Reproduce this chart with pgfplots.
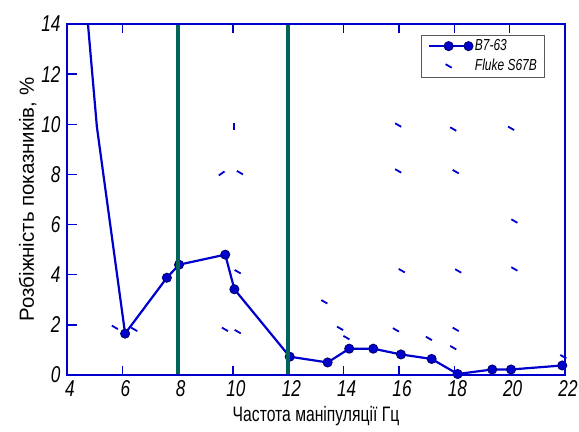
\documentclass[border=0pt]{standalone}
\usepackage{fontspec}
\setmainfont{Liberation Sans}[FakeStretch=0.75]
\newfontfamily\widefont{Liberation Sans}
\usepackage{pgfplots}
\pgfplotsset{compat=1.18}
\definecolor{lblue}{RGB}{0,0,205}
\definecolor{mblue}{RGB}{0,0,120}
\definecolor{gteal}{RGB}{0,100,90}
\pgfplotsset{
  flukelegend/.style={legend image code/.code={\draw[##1] plot coordinates {(0.7cm,0cm)};}},
  linelegend/.style={legend image code/.code={\draw[mark repeat=2,mark phase=2,##1] plot coordinates {(0cm,0cm) (0.7cm,0cm) (1.4cm,0cm)};}},
}
\begin{document}
\begin{tikzpicture}
\begin{axis}[
  scale only axis, width=498bp, height=351bp,
  xmin=4, xmax=22, ymin=0, ymax=14,
  xtick={4,6,...,22}, ytick={0,2,...,14},
  axis line style={draw=lblue, line width=2bp},
  major tick length=0pt,
  ticklabel style={font=\fontsize{23}{25}\selectfont\itshape},
  xticklabel style={xshift=3bp, yshift=-2bp},
  yticklabel style={xshift=-3bp},
  xlabel={Частота маніпуляції Гц},
  ylabel={Розбіжність показників, \%},
  xlabel style={font=\fontsize{21}{24}\selectfont, yshift=-3bp},
  ylabel style={font=\widefont\fontsize{20.5}{24}\selectfont, yshift=-2bp},
  legend style={at={(0.96,0.97)}, anchor=north east, draw=gray!70!black, line width=0.6bp,
    font=\fontsize{16}{19}\selectfont\itshape, row sep=3bp, inner xsep=6bp, inner ysep=3bp},
  legend cell align=left,
  reverse legend,
  clip mode=individual,
  /pgf/number format/assume math mode=true,
]
\addplot[only marks, mark=-, mark size=3.5bp, mark options={lblue, line width=1.8bp, rotate=-30},
  flukelegend]
  coordinates {
  (10.25,8.07) (5.73,1.9) (6.43,1.82) (10.17,4.12) (9.71,1.82) (10.17,1.73)
  (15.97,9.97) (17.96,9.81) (20.05,9.84) (15.97,8.14) (18.05,8.11)
  (20.17,6.14) (16.1,4.16) (18.14,4.15) (20.17,4.23)
  (13.3,2.92) (13.87,1.86) (14.1,1.49) (15.89,1.8) (17.08,1.46)
  (18.05,1.82) (17.96,1.09) (21.94,0.73)
  };
\addlegendentry{Fluke S67B}
\addplot[forget plot, only marks, mark=-, mark size=3.5bp, mark options={lblue, line width=1.8bp, rotate=35}]
  coordinates {(9.59,8.04)};
\addplot[forget plot, only marks, mark=-, mark size=3.5bp, mark options={lblue, line width=1.8bp, rotate=90}]
  coordinates {(10.05,9.93)};
\addplot[lblue, line width=2.2bp, mark=*, mark size=4.5bp,
  mark options={fill=lblue, draw=mblue, line width=1bp},
  mark indices={2,3,4,5,6,7,8,9,10,11,12,13,14,15,16,17},
  linelegend]
  coordinates {
  (4.6,16.0) (5.08,9.9) (6.1,1.65) (7.61,3.88) (8.05,4.4) (9.72,4.8) (10.05,3.42)
  (12.05,0.73) (13.42,0.5) (14.2,1.05) (15.07,1.05) (16.07,0.82) (17.18,0.64)
  (18.12,0.04) (19.37,0.22) (20.05,0.22) (21.9,0.38)
  };
\addlegendentry{B7-63}
\addplot[forget plot, gteal, line width=4bp] coordinates {(8,0) (8,14)};
\addplot[forget plot, gteal, line width=4bp] coordinates {(12,0) (12,14)};
\pgfplotsinvokeforeach{6,10,14,16,18,20}{
  \draw[lblue, line width=1.5bp] (axis cs:#1,0) -- ([yshift=9bp]axis cs:#1,0);
  \draw[lblue, line width=1.5bp] (axis cs:#1,14) -- ([yshift=-9bp]axis cs:#1,14);
}
\pgfplotsinvokeforeach{2,4,6,8,10,12}{
  \draw[lblue, line width=1.5bp] (axis cs:4,#1) -- ([xshift=10bp]axis cs:4,#1);
}
\draw[lblue, line width=2bp] (rel axis cs:0,0) rectangle (rel axis cs:1,1);
\end{axis}
\pgfresetboundingbox
\useasboundingbox ([shift={(-67bp,-57bp)}]current axis.south west) rectangle ([shift={(14bp,24bp)}]current axis.north east);
\end{tikzpicture}
\end{document}
